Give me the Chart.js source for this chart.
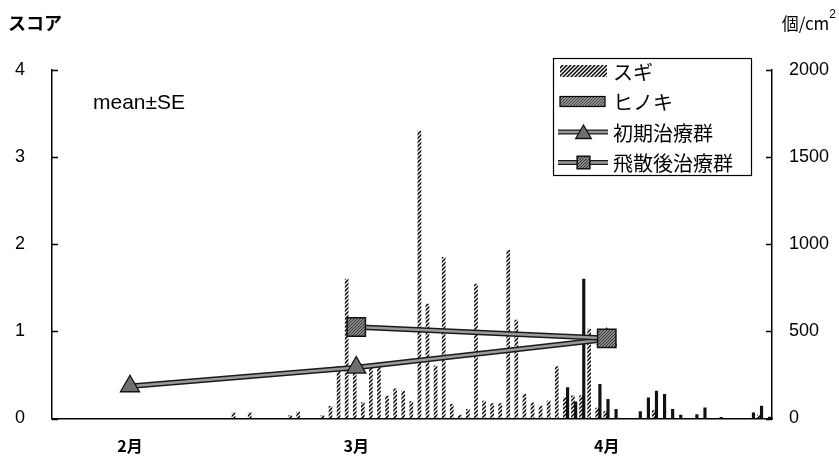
<!DOCTYPE html>
<html>
<head>
<meta charset="utf-8">
<script src="https://cdn.jsdelivr.net/npm/chart.js@4/dist/chart.umd.min.js"></script>
<style>
  html, body { margin: 0; padding: 0; background: #fff; }
  #c { display: block; }
</style>
</head>
<body>
<canvas id="c" width="839" height="458" style="width:839px;height:458px"></canvas>
<script>
// Daily airborne pollen counts (個/cm²), one value per day starting 2/1
const cedarCounts = [
  0, 0, 0, 0, 0, 0, 0, 0, 0, 0,
  0, 0, 0, 33, 0, 33, 0, 0, 0, 0,
  17, 37, 0, 0, 17, 70, 300, 800, 260, 92,
  300, 300, 129, 170, 157, 97, 1650, 657, 302, 925,
  81, 20, 52, 772, 100, 85, 85, 965, 565, 140,
  90, 71, 100, 298, 120, 130, 130, 513, 60, 40,
  0, 0, 0, 0, 0, 45, 0, 0, 0, 0,
  0, 0, 0, 0, 0, 0, 0, 0, 20, 0
];
const cypressCounts = [
  0, 0, 0, 0, 0, 0, 0, 0, 0, 0,
  0, 0, 0, 0, 0, 0, 0, 0, 0, 0,
  0, 0, 0, 0, 0, 0, 0, 0, 0, 0,
  0, 0, 0, 0, 0, 0, 0, 0, 0, 0,
  0, 0, 0, 0, 0, 0, 0, 0, 0, 0,
  0, 0, 0, 0, 177, 95, 800, 0, 196, 110,
  52, 0, 0, 40, 119, 157, 138, 52, 19, 0,
  23, 61, 0, 6, 0, 0, 0, 33, 71, 8
];

// Symptom scores (mean) at the start of each month; day 0 = 2/1
const earlyDays = [0, 28, 59];
const earlyScores = [0.37, 0.585, 0.91];
const lateDays = [28, 59];
const lateScores = [1.05, 0.92];

// Axis ticks
const monthTicks = [0, 28, 59];
const monthLabels = ['2月', '3月', '4月'];
const scoreTicks = [0, 1, 2, 3, 4];
const pollenTicks = [0, 500, 1000, 1500, 2000];

const seriesNames = ['スギ', 'ヒノキ', '初期治療群', '飛散後治療群'];

const canvas = document.getElementById('c');
const mainCtx = canvas.getContext('2d');

// Diagonal hatching for the cedar bars
function makeHatch() {
  const t = document.createElement('canvas');
  t.width = 4; t.height = 4;
  const g = t.getContext('2d');
  g.strokeStyle = '#000';
  g.lineWidth = 1.5;
  g.beginPath();
  g.moveTo(0, 4); g.lineTo(4, 0);
  g.moveTo(-1, 1); g.lineTo(1, -1);
  g.moveTo(3, 5); g.lineTo(5, 3);
  g.stroke();
  return mainCtx.createPattern(t, 'repeat');
}
// Grey stipple used for cypress swatch and square markers
function makeStipple(base, dot) {
  const t = document.createElement('canvas');
  t.width = 3; t.height = 3;
  const g = t.getContext('2d');
  g.fillStyle = base; g.fillRect(0, 0, 3, 3);
  g.fillStyle = dot; g.fillRect(0, 0, 1, 1); g.fillRect(2, 1, 1, 1); g.fillRect(1, 2, 1, 1);
  return mainCtx.createPattern(t, 'repeat');
}
const hatch = makeHatch();
const stippleDark = makeStipple('#8a8a8a', '#333');
const stippleMid = makeStipple('#8f8f8f', '#444');

const toPoints = (xs, ys) => xs.map((x, i) => ({ x, y: ys[i] }));
const dailyPoints = vals => vals.map((v, i) => ({ x: i, y: v }));

const CJK = "'Noto Sans CJK JP', sans-serif";
const LATIN = "'Liberation Sans', Arial, sans-serif";

// Short tick marks pointing into the plot on both value axes
const inwardTicks = {
  id: 'inwardTicks',
  beforeDatasetsDraw(chart) {
    const { ctx, chartArea } = chart;
    ctx.save();
    ctx.strokeStyle = '#000';
    ctx.lineWidth = 1.4;
    const ys = chart.scales.y, y2 = chart.scales.y2;
    ctx.beginPath();
    ys.ticks.forEach(t => {
      const p = Math.round(ys.getPixelForValue(t.value)) + 0.5;
      ctx.moveTo(chartArea.left, p); ctx.lineTo(chartArea.left + 6, p);
    });
    y2.ticks.forEach(t => {
      const p = Math.round(y2.getPixelForValue(t.value)) + 0.5;
      ctx.moveTo(chartArea.right, p); ctx.lineTo(chartArea.right - 6, p);
    });
    ctx.stroke();
    ctx.restore();
  }
};

// Dark edge under the grey score lines
const outlinedLines = {
  id: 'outlinedLines',
  beforeDatasetDraw(chart, args) {
    const ds = chart.data.datasets[args.index];
    if (ds.type !== 'line') return;
    const pts = args.meta.data;
    const ctx = chart.ctx;
    ctx.save();
    ctx.strokeStyle = '#1a1a1a';
    ctx.lineWidth = 5.5;
    ctx.lineJoin = 'round';
    ctx.beginPath();
    pts.forEach((p, i) => i ? ctx.lineTo(p.x, p.y) : ctx.moveTo(p.x, p.y));
    ctx.stroke();
    ctx.restore();
  }
};

// Axis unit captions, the "mean±SE" note and the boxed legend
const captionsAndLegend = {
  id: 'captionsAndLegend',
  afterDraw(chart, args, opts) {
    const ctx = chart.ctx;
    const area = chart.chartArea;
    ctx.save();
    ctx.fillStyle = '#000';
    ctx.textBaseline = 'middle';

    ctx.textAlign = 'left';
    ctx.font = 'bold 18px ' + CJK;
    ctx.fillText('スコア', 8, 23);

    ctx.textAlign = 'right';
    ctx.font = '12px ' + LATIN;
    ctx.fillText('2', 836, 15);
    const supW = ctx.measureText('2').width;
    ctx.font = '17px ' + CJK;
    ctx.fillText('個/cm', 836 - supW, 24);

    ctx.textAlign = 'left';
    ctx.font = '21px ' + LATIN;
    ctx.fillText('mean±SE', area.left + 41, 103);

    // legend box
    const L = opts.box;
    ctx.fillStyle = '#fff';
    ctx.fillRect(L.left, L.top, L.width, L.height);
    ctx.strokeStyle = '#000';
    ctx.lineWidth = 1.2;
    ctx.strokeRect(L.left + 0.5, L.top + 0.5, L.width, L.height);

    chart.data.datasets.forEach(ds => {
      const row = seriesNames.indexOf(ds.label);
      const cy = L.top + L.firstRow + row * L.rowGap;
      const sx = L.left + 7, sw = 47;
      if (ds.type === 'line') {
        ctx.strokeStyle = '#1a1a1a';
        ctx.lineWidth = 5;
        ctx.beginPath(); ctx.moveTo(sx - 2, cy); ctx.lineTo(sx + sw + 1, cy); ctx.stroke();
        ctx.strokeStyle = ds.borderColor;
        ctx.lineWidth = 2.5;
        ctx.beginPath(); ctx.moveTo(sx - 2, cy); ctx.lineTo(sx + sw + 1, cy); ctx.stroke();
        ctx.fillStyle = ds.pointBackgroundColor;
        ctx.strokeStyle = ds.pointBorderColor;
        ctx.lineWidth = ds.pointBorderWidth;
        Chart.helpers.drawPoint(ctx, {
          pointStyle: ds.pointStyle, rotation: 0,
          radius: 9, borderWidth: ds.pointBorderWidth
        }, sx + sw / 2, cy + (ds.pointStyle === 'triangle' ? 2 : 0));
      } else if (ds.label === seriesNames[0]) {
        ctx.fillStyle = ds.backgroundColor;
        ctx.fillRect(sx, cy - 6, sw, 12);
      } else {
        ctx.fillStyle = stippleMid;
        ctx.fillRect(sx, cy - 5, sw - 2, 10);
        ctx.strokeStyle = '#000';
        ctx.lineWidth = 1.2;
        ctx.strokeRect(sx, cy - 5, sw - 2, 10);
      }
      ctx.fillStyle = '#000';
      ctx.font = '20px ' + CJK;
      ctx.textAlign = 'left';
      ctx.fillText(ds.label, L.left + 60, cy + 1);
    });
    ctx.restore();
  }
};

const xMin = -9.65, xMax = 79.45;

new Chart(canvas, {
  type: 'bar',
  data: {
    datasets: [
      {
        type: 'bar', label: seriesNames[0], data: dailyPoints(cedarCounts),
        yAxisID: 'y2', backgroundColor: hatch, borderWidth: 0,
        barThickness: 3, order: 2
      },
      {
        type: 'bar', label: seriesNames[1], data: dailyPoints(cypressCounts),
        yAxisID: 'y2', backgroundColor: '#111', borderWidth: 0,
        barThickness: 2.5, order: 2
      },
      {
        type: 'line', label: seriesNames[2], data: toPoints(earlyDays, earlyScores),
        yAxisID: 'y', borderColor: '#9a9a9a', borderWidth: 2.5,
        pointStyle: 'triangle', pointRadius: 11, pointBackgroundColor: '#6f6f6f',
        pointBorderColor: '#111', pointBorderWidth: 1.3, order: 1
      },
      {
        type: 'line', label: seriesNames[3], data: toPoints(lateDays, lateScores),
        yAxisID: 'y', borderColor: '#9a9a9a', borderWidth: 2.5,
        pointStyle: 'rect', pointRadius: 13, pointBackgroundColor: stippleDark,
        pointBorderColor: '#111', pointBorderWidth: 1.5, order: 0
      }
    ]
  },
  options: {
    responsive: false,
    animation: false,
    devicePixelRatio: 1,
    layout: { padding: { top: 70, left: 0, right: 0, bottom: 0 } },
    plugins: {
      legend: { display: false },
      tooltip: { enabled: false },
      captionsAndLegend: {
        box: { left: 553, top: 58, width: 198, height: 117, firstRow: 13, rowGap: 30.5 }
      }
    },
    scales: {
      x: {
        type: 'linear', min: xMin, max: xMax, offset: false,
        grid: { display: false, drawTicks: false },
        border: { display: true, color: '#000', width: 1.5 },
        afterBuildTicks: s => { s.ticks = monthTicks.map(v => ({ value: v })); },
        afterFit: s => { s.height = 39.5; },
        ticks: {
          autoSkip: false, maxRotation: 0, padding: 18, color: '#000',
          font: { family: CJK, size: 16, weight: 'bold' },
          callback: v => monthLabels[monthTicks.indexOf(v)] ?? ''
        }
      },
      y: {
        position: 'left', min: 0, max: 4,
        grid: { display: false, drawTicks: false },
        border: { display: true, color: '#000', width: 1.5 },
        afterBuildTicks: s => { s.ticks = scoreTicks.map(v => ({ value: v })); },
        afterFit: s => { s.width = 52; },
        ticks: { padding: 27, color: '#000', font: { family: LATIN, size: 18 }, callback: v => String(v) }
      },
      y2: {
        position: 'right', min: 0, max: 2000,
        grid: { display: false, drawTicks: false },
        border: { display: true, color: '#000', width: 1.5 },
        afterBuildTicks: s => { s.ticks = pollenTicks.map(v => ({ value: v })); },
        afterFit: s => { s.width = 67; },
        ticks: { padding: 17, color: '#000', font: { family: LATIN, size: 18 }, callback: v => String(v) }
      }
    }
  },
  plugins: [inwardTicks, outlinedLines, captionsAndLegend]
});
</script>
</body>
</html>
